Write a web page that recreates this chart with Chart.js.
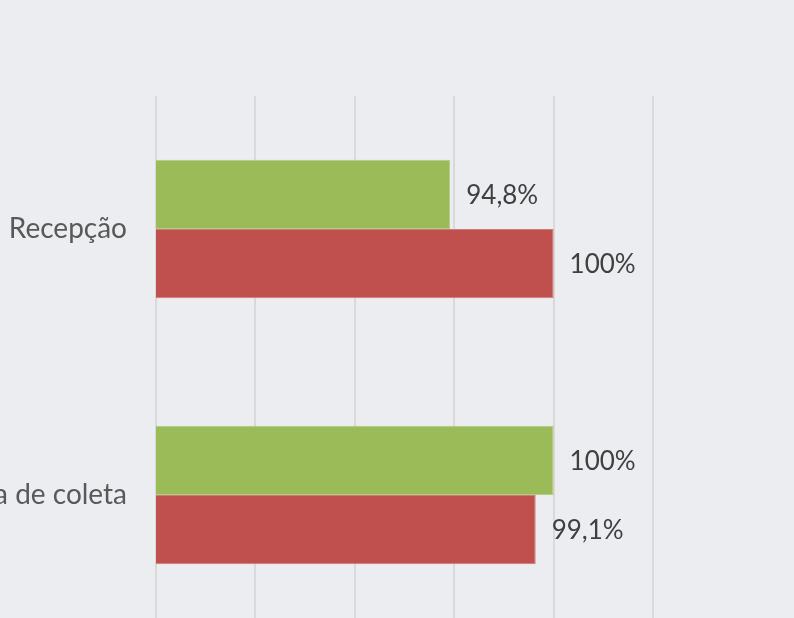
<!DOCTYPE html>
<html>
<head>
<meta charset="utf-8">
<script src="https://cdn.jsdelivr.net/npm/chart.js@4"></script>
<style>
    html, body { margin:0; padding:0; background:#ecedf0; overflow:hidden; width:794px; height:618px; }
    #wrap { position:absolute; left:-100px; top:0; width:894px; height:700px; }
</style>
</head>
<body>
<div id="wrap"><canvas id="chart"></canvas></div>
<script>
const categories = ['Recepção', 'Sala de coleta'];
const greenValues = [94.8, 100];
const redValues = [100, 99.1];
const xTicks = [80, 85, 90, 95, 100, 105];

const fmt = v => (Number.isInteger(v) ? String(v) : v.toFixed(1).replace('.', ',')) + '%';

// labels at the end of each bar
const barLabels = {
    id: 'barLabels',
    afterDatasetsDraw(chart) {
        const ctx = chart.ctx;
        ctx.save();
        ctx.font = '26px Lato';
        ctx.fillStyle = '#404040';
        ctx.textAlign = 'left';
        ctx.textBaseline = 'middle';
        chart.data.datasets.forEach((ds, i) => {
            chart.getDatasetMeta(i).data.forEach((bar, j) => {
                ctx.fillText(fmt(ds.data[j]), bar.x + 16, bar.y + 1);
            });
        });
        ctx.restore();
    }
};

new Chart(document.getElementById('chart'), {
    type: 'bar',
    data: {
        labels: categories,
        datasets: [
            { label: 'A', data: greenValues, backgroundColor: '#9bbb59', borderColor: '#b3cc82', borderWidth: 1, borderSkipped: 'start' },
            { label: 'B', data: redValues, backgroundColor: '#c0504d', borderColor: '#d07a77', borderWidth: 1, borderSkipped: 'start' }
        ]
    },
    options: {
        indexAxis: 'y',
        responsive: true,
        maintainAspectRatio: false,
        animation: false,
        layout: { padding: { top: 96, right: 141, bottom: 32, left: 0 } },
        datasets: { bar: { categoryPercentage: 0.52, barPercentage: 1 } },
        plugins: { legend: { display: false }, tooltip: { enabled: false } },
        scales: {
            x: {
                min: xTicks[0],
                max: xTicks[xTicks.length - 1],
                afterBuildTicks: s => { s.ticks = xTicks.map(v => ({ value: v })); },
                afterFit: s => { s.height = 40; },
                grid: { color: '#d9d9d9', lineWidth: 2, drawTicks: false },
                border: { display: false },
                ticks: { callback: v => v + '%', color: '#595959', font: { family: 'Lato', size: 20 } }
            },
            y: {
                afterFit: s => { s.width = 256; },
                grid: { display: false },
                border: { display: false },
                ticks: { color: '#595959', padding: 21, font: { family: 'Lato', size: 28 } }
            }
        }
    },
    plugins: [barLabels]
});
</script>
</body>
</html>
